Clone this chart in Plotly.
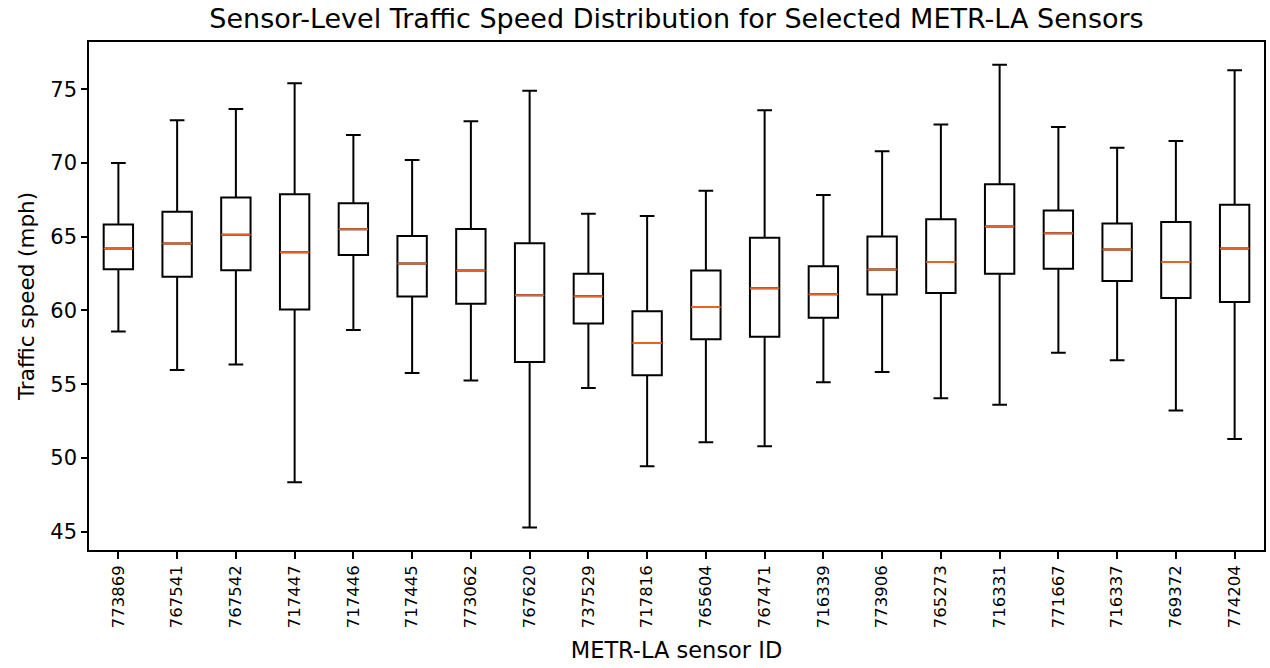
import plotly.graph_objects as go

sensors = ["773869", "767541", "767542", "717447", "717446", "717445", "773062",
           "767620", "737529", "717816", "765604", "767471", "716339", "773906",
           "765273", "716331", "771667", "716337", "769372", "774204"]
upper = [70.0, 72.9, 73.65, 75.4, 71.9, 70.2, 72.82, 74.89, 66.56, 66.4,
         68.12, 73.58, 67.82, 70.8, 72.61, 76.65, 72.43, 71.03, 71.49, 76.28]
q3 = [65.83, 66.7, 67.66, 67.87, 67.27, 65.05, 65.53, 64.56, 62.48, 59.95,
      62.71, 64.93, 63.0, 65.02, 66.19, 68.56, 66.77, 65.9, 66.0, 67.16]
median = [64.2, 64.54, 65.14, 63.94, 65.5, 63.19, 62.71, 61.03, 60.96, 57.8,
          60.23, 61.51, 61.1, 62.78, 63.28, 65.69, 65.23, 64.13, 63.28, 64.2]
q1 = [62.8, 62.29, 62.73, 60.07, 63.76, 60.94, 60.46, 56.51, 59.11, 55.6,
      58.05, 58.21, 59.5, 61.08, 61.19, 62.48, 62.82, 62.0, 60.85, 60.57]
lower = [58.58, 55.96, 56.33, 48.35, 58.67, 55.76, 55.25, 45.28, 54.75, 49.43,
         51.06, 50.8, 55.14, 55.83, 54.04, 53.6, 57.13, 56.63, 53.21, 51.28]

pos = list(range(1, len(sensors) + 1))

fig = go.Figure()
fig.add_trace(go.Box(
    x=pos, q1=q1, median=median, q3=q3, lowerfence=lower, upperfence=upper,
    width=0.5, whiskerwidth=0.5, fillcolor="rgba(255,255,255,0)",
    line=dict(color="black", width=2), boxpoints=False, hoverinfo="skip",
    showlegend=False,
))
fig.add_trace(go.Box(
    x=pos, q1=median, median=median, q3=median, lowerfence=median, upperfence=median,
    width=0.5, whiskerwidth=0.5, fillcolor="rgba(255,255,255,0)",
    line=dict(color="#e5632a", width=2), boxpoints=False, hoverinfo="skip",
    showlegend=False,
))

fig.update_layout(
    width=1270, height=668,
    margin=dict(l=89, r=4, t=42, b=118),
    paper_bgcolor="white", plot_bgcolor="white",
    boxmode="overlay",
    font=dict(family="DejaVu Sans", color="black"),
    title=dict(text="Sensor-Level Traffic Speed Distribution for Selected METR-LA Sensors",
               x=0.5, xref="paper", xanchor="center", y=0.972, yref="container",
               yanchor="middle", font=dict(size=27, color="black")),
    xaxis=dict(
        range=[0.5, len(sensors) + 0.5], tickmode="array", tickvals=pos, ticktext=sensors,
        tickangle=-90, tickfont=dict(size=16.5), ticks="outside", ticklen=7, tickwidth=1.5,
        tickcolor="black", showline=True, linecolor="black", linewidth=1.5, mirror=True,
        showgrid=False, zeroline=False,
        title=dict(text="METR-LA sensor ID", font=dict(size=22.5), standoff=15),
    ),
    yaxis=dict(
        range=[43.76, 78.2], tickvals=[45, 50, 55, 60, 65, 70, 75],
        tickfont=dict(size=21), ticks="outside", ticklen=6, tickwidth=1.5,
        tickcolor="black", showline=True, linecolor="black", linewidth=1.5, mirror=True,
        showgrid=False, zeroline=False,
        title=dict(text="Traffic speed (mph)", font=dict(size=21.5), standoff=10),
    ),
)

fig.write_html("out.html")
